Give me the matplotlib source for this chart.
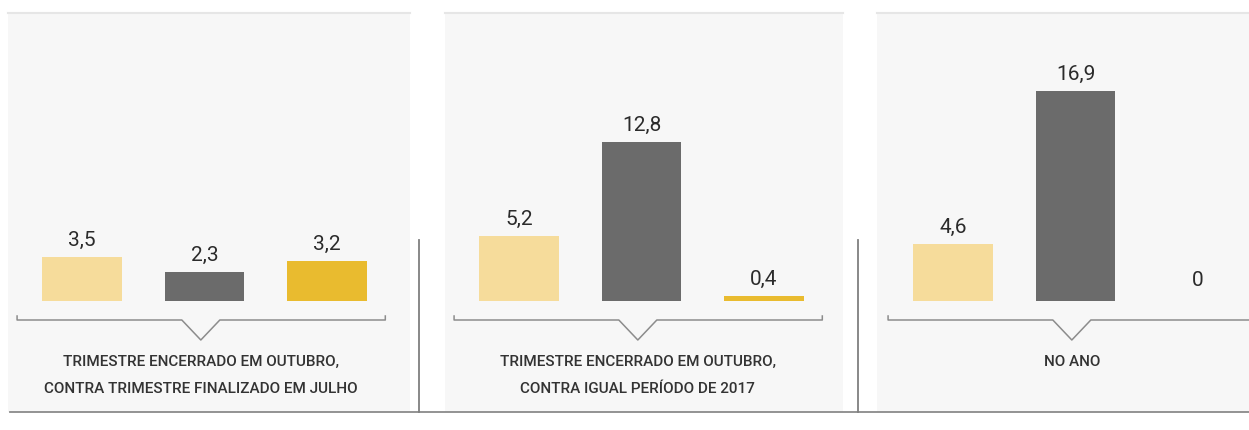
import matplotlib
matplotlib.use('Agg')
import matplotlib.pyplot as plt
from matplotlib.patches import Rectangle

# valores por painel (variação %)
captions = [
    'TRIMESTRE ENCERRADO EM OUTUBRO,\nCONTRA TRIMESTRE FINALIZADO EM JULHO',
    'TRIMESTRE ENCERRADO EM OUTUBRO,\nCONTRA IGUAL PERÍODO DE 2017',
    'NO ANO',
]
panel1 = [3.5, 2.3, 3.2]
panel2 = [5.2, 12.8, 0.4]
panel3 = [4.6, 16.9, 0.0]
labels1 = ['3,5', '2,3', '3,2']
labels2 = ['5,2', '12,8', '0,4']
labels3 = ['4,6', '16,9', '0']

colors = ['#f6dc9b', '#6b6b6b', '#e9bb2f']
panels = [panel1, panel2, panel3]
labels = [labels1, labels2, labels3]

W, H = 1249, 430
fig = plt.figure(figsize=(W / 100, H / 100), dpi=100)
fig.patch.set_facecolor('white')

num_font = ['Roboto', 'DejaVu Sans']
cap_font = ['Roboto', 'DejaVu Sans']

# fundos dos paineis (px)
boxes = [(8, 410), (445, 843), (877, 1249)]
for x0, x1 in boxes:
    fig.add_artist(Rectangle((x0 / W, (H - 412) / H), (x1 - x0) / W, 400 / H,
                             transform=fig.transFigure, facecolor='#f7f7f7',
                             edgecolor='none', zorder=0))
    fig.add_artist(plt.Line2D([x0 / W, x1 / W], [(H - 13) / H] * 2,
                              transform=fig.transFigure, color='#e6e6e6', lw=1.5, zorder=1))

# linha de base e separadores
fig.add_artist(plt.Line2D([10 / W, 1.0], [(H - 412) / H] * 2, transform=fig.transFigure,
                          color='#8a8a8a', lw=1.3, zorder=2))
for sx in [419, 858]:
    fig.add_artist(plt.Line2D([sx / W] * 2, [(H - 240) / H, (H - 412) / H],
                              transform=fig.transFigure, color='#7f7f7f', lw=1.3, zorder=2))

lefts = [20.75, 457.75, 891.75]
ax_w, ax_h, ax_bottom = 367.5, 249, 129
for i in range(3):
    ax = fig.add_axes([lefts[i] / W, ax_bottom / H, ax_w / W, ax_h / H])
    ax.set_facecolor('none')
    ax.set_xlim(-0.5, 2.5)
    ax.set_ylim(0, 20)
    ax.axis('off')
    xs = range(len(panels[i]))
    ax.bar(xs, panels[i], width=0.65, color=colors, zorder=3)
    for x, v, lab in zip(xs, panels[i], labels[i]):
        ax.annotate(lab, (x, v), xytext=(0, 12 if v > 0 else 15), textcoords='offset points',
                    ha='center', va='center', fontsize=15, color='#2b2b2b', family=num_font)

    # chave com seta
    yb = -19 / ax_h
    notch = 19 / ax_w
    c = 0.49
    ax.plot([-0.01, -0.01, c - notch, c, c + notch, 0.992, 0.992],
            [yb + 4 / ax_h, yb, yb, yb - 20 / ax_h, yb, yb, yb + 4 / ax_h],
            transform=ax.transAxes, color='#8c8c8c', lw=1.1, clip_on=False)

    lines = captions[i].split('\n')
    for k, line in enumerate(lines):
        ax.text(0.49, (-61 - 27 * k) / ax_h, line, transform=ax.transAxes, ha='center',
                va='center', fontsize=11, fontweight='medium', color='#333333',
                family=cap_font)

fig.savefig('out.png', dpi=100, facecolor='white')
